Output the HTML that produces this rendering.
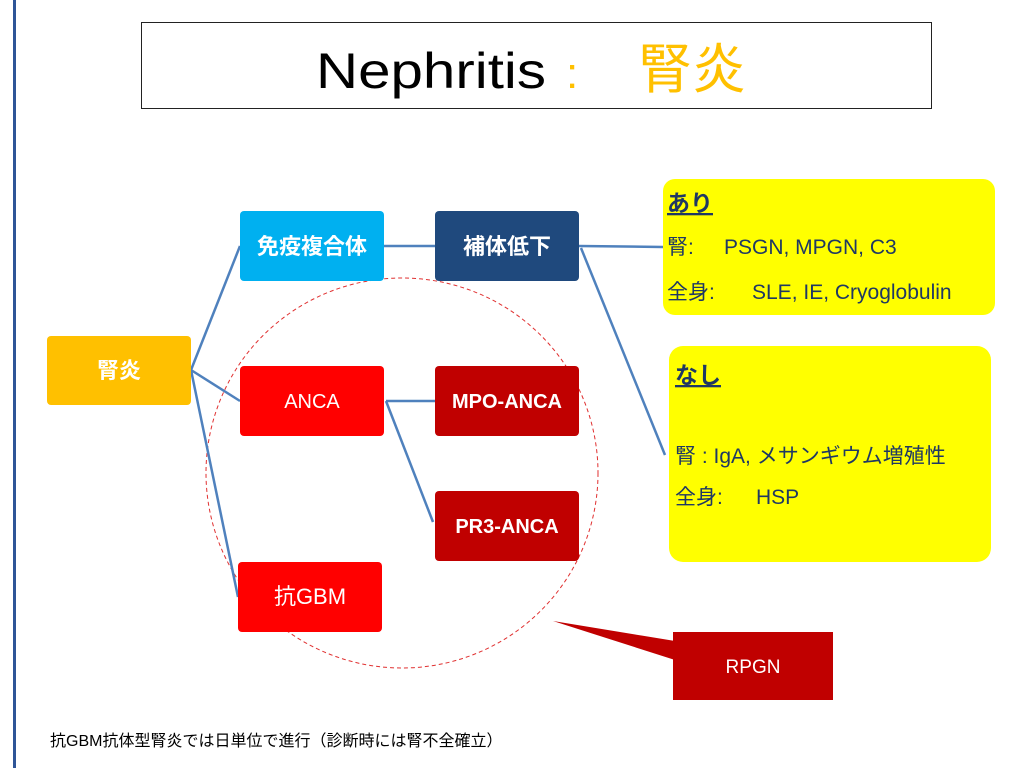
<!DOCTYPE html>
<html><head><meta charset="utf-8"><style>
body{margin:0;width:1024px;height:768px;background:#fff;overflow:hidden;font-family:"Liberation Sans","Noto Sans CJK JP",sans-serif}
</style></head><body>
<svg width="1024" height="768" viewBox="0 0 1024 768" xmlns="http://www.w3.org/2000/svg" font-family="Liberation Sans, Noto Sans CJK JP, sans-serif">
<rect x="13" y="0" width="3" height="768" fill="#2F5597"/>
<rect x="141.5" y="22.5" width="790" height="86" fill="#fff" stroke="#222" stroke-width="1"/>
<text x="316" y="88" font-size="50" fill="#000" textLength="230" lengthAdjust="spacingAndGlyphs">Nephritis</text>
<text x="566" y="88" font-size="44" fill="#FFC000">:</text>
<text x="638" y="88" font-size="54" fill="#FFC000" font-family="Noto Sans CJK JP, sans-serif">腎炎</text>

<ellipse cx="402" cy="473" rx="196" ry="195" fill="none" stroke="#E03030" stroke-width="1" stroke-dasharray="4,3"/>

<g stroke="#4F81BD" stroke-width="2.5" fill="none">
<line x1="191" y1="370" x2="240" y2="246"/>
<line x1="191" y1="370" x2="240" y2="401"/>
<line x1="191" y1="370" x2="238" y2="597"/>
<line x1="384" y1="246" x2="435" y2="246"/>
<line x1="386" y1="401" x2="435" y2="401"/>
<line x1="386" y1="401" x2="433" y2="522"/>
<line x1="579" y1="246" x2="663" y2="247"/>
<line x1="581" y1="248" x2="665" y2="455"/>
</g>

<rect x="47" y="336" width="144" height="69" rx="4" fill="#FFC000"/>
<text x="119" y="378" font-size="22" fill="#fff" font-weight="bold" text-anchor="middle">腎炎</text>
<rect x="240" y="211" width="144" height="70" rx="4" fill="#00B0F0"/>
<text x="312" y="254" font-size="22" fill="#fff" font-weight="bold" text-anchor="middle">免疫複合体</text>
<rect x="435" y="211" width="144" height="70" rx="4" fill="#1F497D"/>
<text x="507" y="254" font-size="22" fill="#fff" font-weight="bold" text-anchor="middle">補体低下</text>
<rect x="240" y="366" width="144" height="70" rx="4" fill="#FF0000"/>
<text x="312" y="408" font-size="20" fill="#fff" text-anchor="middle">ANCA</text>
<rect x="435" y="366" width="144" height="70" rx="4" fill="#C00000"/>
<text x="507" y="408" font-size="20" fill="#fff" font-weight="bold" text-anchor="middle">MPO-ANCA</text>
<rect x="435" y="491" width="144" height="70" rx="4" fill="#C00000"/>
<text x="507" y="533" font-size="20" fill="#fff" font-weight="bold" text-anchor="middle">PR3-ANCA</text>
<rect x="238" y="562" width="144" height="70" rx="4" fill="#FF0000"/>
<text x="310" y="604" font-size="22" fill="#fff" text-anchor="middle">抗GBM</text>

<rect x="663" y="179" width="332" height="136" rx="12" fill="#FFFF00"/>
<text x="667" y="211" font-size="23" fill="#1F3864" font-weight="bold" text-decoration="underline">あり</text>
<text x="667" y="254" font-size="21" fill="#1F3864">腎:</text>
<text x="724" y="254" font-size="21" fill="#1F3864">PSGN, MPGN, C3</text>
<text x="667" y="299" font-size="21" fill="#1F3864">全身:</text>
<text x="752" y="299" font-size="21" fill="#1F3864">SLE, IE, Cryoglobulin</text>
<rect x="669" y="346" width="322" height="216" rx="14" fill="#FFFF00"/>
<text x="675" y="383" font-size="23" fill="#1F3864" font-weight="bold" text-decoration="underline">なし</text>
<text x="675" y="463" font-size="21" fill="#1F3864">腎 : IgA, メサンギウム増殖性</text>
<text x="675" y="504" font-size="21" fill="#1F3864">全身:</text>
<text x="756" y="504" font-size="21" fill="#1F3864">HSP</text>

<polygon points="553,621 675,641 675,660" fill="#C00000"/>
<rect x="673" y="632" width="160" height="68" fill="#C00000"/>
<text x="753" y="673" font-size="19" fill="#fff" text-anchor="middle">RPGN</text>

<text x="50" y="746" font-size="16" fill="#000">抗GBM抗体型腎炎では日単位で進行（診断時には腎不全確立）</text>
</svg>
</body></html>
